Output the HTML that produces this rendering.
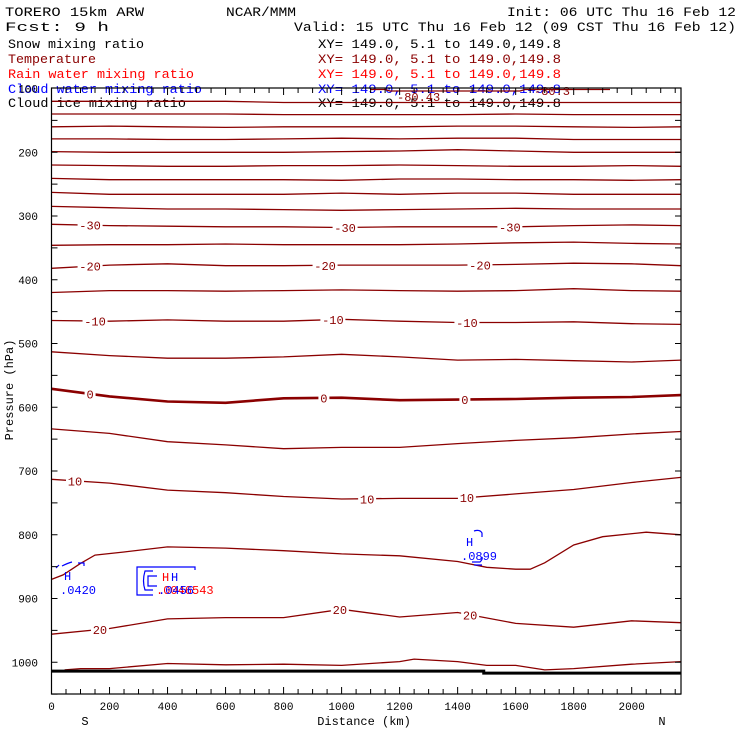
<!DOCTYPE html>
<html><head><meta charset="utf-8"><style>
html,body{margin:0;padding:0;background:#fff;}
svg{display:block;font-family:"Liberation Mono",monospace;}
</style></head><body>
<svg id="chart" width="740" height="740" viewBox="0 0 740 740" xmlns="http://www.w3.org/2000/svg">
<rect x="0" y="0" width="740" height="740" fill="#fff"/>
<g id="header" font-size="13">
<text x="5" y="16" textLength="139" lengthAdjust="spacingAndGlyphs">TORERO  15km ARW</text>
<text x="226" y="16" textLength="70" lengthAdjust="spacingAndGlyphs">NCAR/MMM</text>
<text x="507" y="16" textLength="229" lengthAdjust="spacingAndGlyphs">Init: 06 UTC Thu 16 Feb 12</text>
<text x="5" y="31" textLength="104" lengthAdjust="spacingAndGlyphs">Fcst:    9 h</text>
<text x="294" y="31" textLength="442" lengthAdjust="spacingAndGlyphs">Valid: 15 UTC Thu 16 Feb 12 (09 CST Thu 16 Feb 12)</text>
<text x="8" y="48" fill="#000" textLength="136" lengthAdjust="spacingAndGlyphs">Snow mixing ratio</text>
<text x="318" y="48" fill="#000" textLength="243" lengthAdjust="spacingAndGlyphs">XY= 149.0,  5.1 to 149.0,149.8</text>
<text x="8" y="63" fill="#8b0000" textLength="88" lengthAdjust="spacingAndGlyphs">Temperature</text>
<text x="318" y="63" fill="#8b0000" textLength="243" lengthAdjust="spacingAndGlyphs">XY= 149.0,  5.1 to 149.0,149.8</text>
<text x="8" y="78" fill="#ff0000" textLength="186" lengthAdjust="spacingAndGlyphs">Rain water mixing ratio</text>
<text x="318" y="78" fill="#ff0000" textLength="243" lengthAdjust="spacingAndGlyphs">XY= 149.0,  5.1 to 149.0,149.8</text>
<text x="8" y="93" fill="#0000ff" textLength="194" lengthAdjust="spacingAndGlyphs">Cloud water mixing ratio</text>
<text x="318" y="93" fill="#0000ff" textLength="243" lengthAdjust="spacingAndGlyphs">XY= 149.0,  5.1 to 149.0,149.8</text>
<text x="8" y="107" fill="#000" textLength="178" lengthAdjust="spacingAndGlyphs">Cloud ice mixing ratio</text>
<text x="318" y="107" fill="#000" textLength="243" lengthAdjust="spacingAndGlyphs">XY= 149.0,  5.1 to 149.0,149.8</text>
</g>
<g id="plot"></g>
</svg>
<script>
const grid = [0,200,400,600,800,1000,1200,1400,1600,1800,2000,2170];
const tempLevels = [-75,-70,-65,-60,-55,-50,-45,-40,-35,-30,-25,-20,-15,-10,-5,0,5,10,15,20,25];
const c1 = [120,120,120,120,122,122,122,122,122,122,122,122];
const c2 = [140,140,140,140,141,141,141,141,140,141,141,141];
const c3 = [160,159,160,161,160,160,160,159,159,160,161,160];
const c4 = [179,179,180,180,179,178,179,178,178,180,180,180];
const c5 = [199,200,200,200,200,199,198,196,198,200,200,200];
const c6 = [220,221,222,222,221,221,220,221,222,222,221,222];
const c7 = [241,243,243,243,243,244,242,242,243,243,244,243];
const c8 = [263,266,266,266,266,264,266,264,264,266,266,266];
const c9 = [285,287,289,289,290,291,290,289,288,289,289,289];
const c10 = [313,315,316,317,317,318,317,317,317,315,314,315];
const c11 = [346,345,345,344,345,345,345,344,342,341,343,344];
const c12 = [382,377,375,378,378,377,377,377,376,374,375,378];
const c13 = [420,417,417,418,417,416,417,418,417,414,417,418];
const c14 = [464,465,463,465,465,462,465,467,467,466,469,470];
const c15 = [513,519,523,523,521,517,521,526,525,527,529,526];
const c16 = [571,583,591,593,586,585,589,588,587,585,584,581];
const c17 = [634,641,654,659,665,663,663,657,652,648,642,638];
const c18 = [713,719,730,734,740,744,743,743,736,729,718,710];
const c19Dist = [0,40,100,150,250,400,600,800,1000,1200,1400,1500,1600,1650,1700,1800,1900,2050,2170];
const c19 = [870,863,845,832,827,819,821,825,830,833,842,851,854,854,844,816,803,796,800];
const c20 = [956,947,932,930,930,917,929,922,939,945,935,938];
const c21Dist = [45,100,200,400,600,800,1000,1200,1250,1400,1500,1600,1700,1800,2000,2170];
const c21 = [1012,1010,1010,1002,1004,1003,1005,999,995,999,1005,1005,1012,1010,1003,999];
const labelTemps = [-30,-20,-10,0,10,20];
const labelKm = [[133,1012,1580],[133,943,1477],[150,970,1432],[133,939,1425],[81,1088,1432],[167,994,1443]];
const groundDist = [0,1490,1490,2170];
const groundP = [1014,1014,1017,1017];
const xTicks = [0,200,400,600,800,1000,1200,1400,1600,1800,2000];
const yTicks = [100,200,300,400,500,600,700,800,900,1000];

const L=51.5,R=681,T=88,B=694;
const xs = km => L + km*0.2901;
const ys = p => 88.5 + (p-100)*0.6375;
const NS="http://www.w3.org/2000/svg";
const plot=document.getElementById('plot');
function mk(tag,attrs,parent){const e=document.createElementNS(NS,tag);for(const k in attrs)e.setAttribute(k,attrs[k]);(parent||plot).appendChild(e);return e;}

const series=[c1,c2,c3,c4,c5,c6,c7,c8,c9,c10,c11,c12,c13,c14,c15,c16,c17,c18,c19,c20,c21];
const dists=series.map((s,i)=> i===18?c19Dist:(i===20?c21Dist:grid));
const maroon="#8b0000";
function interp(d,v,km){for(let i=0;i<d.length-1;i++){if(km>=d[i]&&km<=d[i+1]){const t=(km-d[i])/(d[i+1]-d[i]);return v[i]+t*(v[i+1]-v[i]);}}return v[v.length-1];}
series.forEach((s,i)=>{
  const d=dists[i];
  const pts=s.map((p,j)=>xs(d[j]).toFixed(1)+','+ys(p).toFixed(1)).join(' ');
  const pl=mk('polyline',{points:pts,fill:'none',stroke:maroon,'stroke-width':tempLevels[i]===0?2.6:1.3});
  
  
});
labelTemps.forEach((t,k)=>{
  const idx=tempLevels.indexOf(t);
  labelKm[k].forEach(km=>{
    const y=ys(interp(dists[idx],series[idx],km));
    const txt=String(t);
    const w=txt.length*7+4;
    const bg=mk('rect',{x:xs(km)-w/2,y:y-5,width:w,height:10,fill:'#fff'});
    
    
    const tx=mk('text',{x:xs(km),y:y+4.5,'text-anchor':'middle','font-size':12,fill:maroon});
    tx.textContent=txt;
    
    
  });
});
// top -80 contour fragments
const topSeg=mk('polyline',{points:'370,89.5 385,89.5 390,91 520,91 525,89.5 610,89.5',fill:'none',stroke:maroon,'stroke-width':1.2});


[['-80.43',397,101],['-80.3',534,95]].forEach(a=>{const t=mk('text',{x:a[1],y:a[2],'font-size':12,fill:maroon});t.textContent=a[0];

});
// ground
const g=mk('polyline',{points:groundDist.map((d,j)=>xs(d)+','+ys(groundP[j])).join(' '),fill:'none',stroke:'#000','stroke-width':3});


// cloud water / rain features
const blue="#0000ff",red="#ff0000";
const f1=mk('path',{d:'M56,568 l3,-3 M62,566 q6,-3 10,-4 M78,563 l6,0 l0,3',fill:'none',stroke:blue,'stroke-width':1.2});


const f2=mk('path',{d:'M153,567 L195,567 L195,570 M153,567 L137,567 L137,595 L153,595 M153,571 L145,571 Q142,581 145,590 L153,590 M157,576 L148,576 L148,586 L157,586',fill:'none',stroke:blue,'stroke-width':1.2});


const f3=mk('path',{d:'M474,531 q6,-2 8,2 l0,4 M472,562 l8,0 q3,-3 2,-5 M474,565 l8,0',fill:'none',stroke:blue,'stroke-width':1.2});


[['H',64,580,blue],['.0420',60,594,blue],['H',162,581,red],['H',171,581,blue],['.0046543',156,594,red],['.0456',158,594,blue],['H',466,546,blue],['.0899',461,560,blue]].forEach(a=>{
 const t=mk('text',{x:a[1],y:a[2],'font-size':12,fill:a[3]});t.textContent=a[0];
 
 
});
// frame
const fr=mk('rect',{x:L,y:T,width:R-L,height:B-T,fill:'none',stroke:'#000','stroke-width':1.2});


// ticks
for(let km=0;km<=2150;km+=50){
  const x=xs(km),len=(km%200===0)?7:5;
  const t1=mk('line',{x1:x,y1:B,x2:x,y2:B-len,stroke:'#000','stroke-width':1});
  
  
  const t2=mk('line',{x1:x,y1:T,x2:x,y2:T+len,stroke:'#000','stroke-width':1});
  
  
}
for(let p=150;p<=1050;p+=50){
  const y=ys(p);
  const t1=mk('line',{x1:L,y1:y,x2:L+6,y2:y,stroke:'#000','stroke-width':1});
  
  
  const t2=mk('line',{x1:R,y1:y,x2:R-6,y2:y,stroke:'#000','stroke-width':1});
  
  
}
xTicks.forEach(v=>{const t=mk('text',{x:xs(v),y:710,'text-anchor':'middle','font-size':11});t.textContent=v;

});
yTicks.forEach(v=>{const t=mk('text',{x:38,y:ys(v)+4,'text-anchor':'end','font-size':11});t.textContent=v;

});
const xt=mk('text',{x:364,y:725,'text-anchor':'middle','font-size':12});xt.textContent='Distance (km)';


const sL=mk('text',{x:85,y:725,'text-anchor':'middle','font-size':12});sL.textContent='S';


const nL=mk('text',{x:662,y:725,'text-anchor':'middle','font-size':12});nL.textContent='N';


const yt=mk('text',{x:0,y:0,'text-anchor':'middle','font-size':12,transform:'translate(13,390) rotate(-90)'});yt.textContent='Pressure (hPa)';


</script>
</body></html>
